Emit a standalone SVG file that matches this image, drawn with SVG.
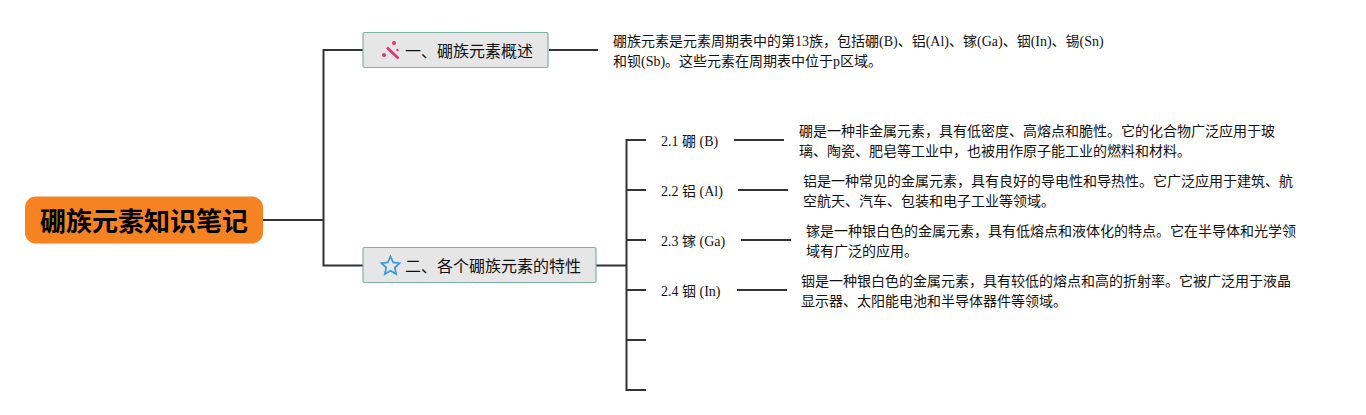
<svg xmlns="http://www.w3.org/2000/svg" width="1366" height="415" viewBox="0 0 1366 415">
<style>
text{font-family:"Liberation Serif","Noto Sans CJK SC",serif;fill:#111;font-size:14px}
.s{font-family:"Noto Sans CJK SC","Liberation Sans",sans-serif;font-size:16px}
.t{font-family:"Noto Sans CJK SC",sans-serif;font-size:26px;font-weight:700;fill:#000}
.c{fill:none;stroke:#333;stroke-width:2}
.b{fill:#e6e6e6;stroke:#7fb2a3;stroke-width:1.2}
</style>
<rect width="1366" height="415" fill="#fff"/>
<g id="connectors">
<path class="c" d="M263 220H323M363 50H323.500V265.500H363M549 50H598M596 265.500H626"/>
<path class="c" d="M646 140H626.500V390H646M626 190H646M626 240H646M626 290H646M626 340H646"/>
<path class="c" d="M734 140H784M738 190H788M741 240H791M737 290H787"/>
</g>
<g id="root"><rect x="25" y="196.500" width="238" height="47" rx="11" fill="#f58322"/><text class="t" x="144" y="231" text-anchor="middle">硼族元素知识笔记</text></g>
<g id="n1"><rect class="b" x="363" y="32.500" width="185" height="35" rx="1.500"/>
<path d="M387 47.500L398.500 58.500" fill="none" stroke="#e8306f" stroke-width="2.600"/><g fill="#e8306f"><circle cx="384" cy="55" r="2"/><circle cx="394" cy="43" r="2"/><circle cx="397.500" cy="50" r="1.200"/></g>
<text class="s" x="405" y="56.500">一、硼族元素概述</text></g>
<g id="n2"><rect class="b" x="363" y="247.500" width="233" height="35" rx="1.500"/>
<path d="M390.500 256.500L393.200 262.500L399.500 263.200L394.800 267.600L396.100 274L390.500 270.800L384.900 274L386.200 267.600L381.500 263.200L387.800 262.500Z" fill="none" stroke="#3a9ad9" stroke-width="1.800"/>
<text class="s" x="405" y="271.500">二、各个硼族元素的特性</text></g>
<g id="d0"><text x="613" y="46">硼族元素是元素周期表中的第13族，包括硼(B)、铝(Al)、镓(Ga)、铟(In)、锡(Sn)</text><text x="613" y="66">和钡(Sb)。这些元素在周期表中位于p区域。</text></g>
<g id="n21"><text x="661" y="146">2.1 硼 (B)</text></g>
<g id="n22"><text x="661" y="196">2.2 铝 (Al)</text></g>
<g id="n23"><text x="661" y="246">2.3 镓 (Ga)</text></g>
<g id="n24"><text x="661" y="296">2.4 铟 (In)</text></g>
<g id="d1"><text x="799" y="136">硼是一种非金属元素，具有低密度、高熔点和脆性。它的化合物广泛应用于玻</text><text x="799" y="156">璃、陶瓷、肥皂等工业中，也被用作原子能工业的燃料和材料。</text></g>
<g id="d2"><text x="803" y="186">铝是一种常见的金属元素，具有良好的导电性和导热性。它广泛应用于建筑、航</text><text x="803" y="206">空航天、汽车、包装和电子工业等领域。</text></g>
<g id="d3"><text x="806" y="236">镓是一种银白色的金属元素，具有低熔点和液体化的特点。它在半导体和光学领</text><text x="806" y="256">域有广泛的应用。</text></g>
<g id="d4"><text x="801" y="286">铟是一种银白色的金属元素，具有较低的熔点和高的折射率。它被广泛用于液晶</text><text x="801" y="306">显示器、太阳能电池和半导体器件等领域。</text></g>
</svg>
